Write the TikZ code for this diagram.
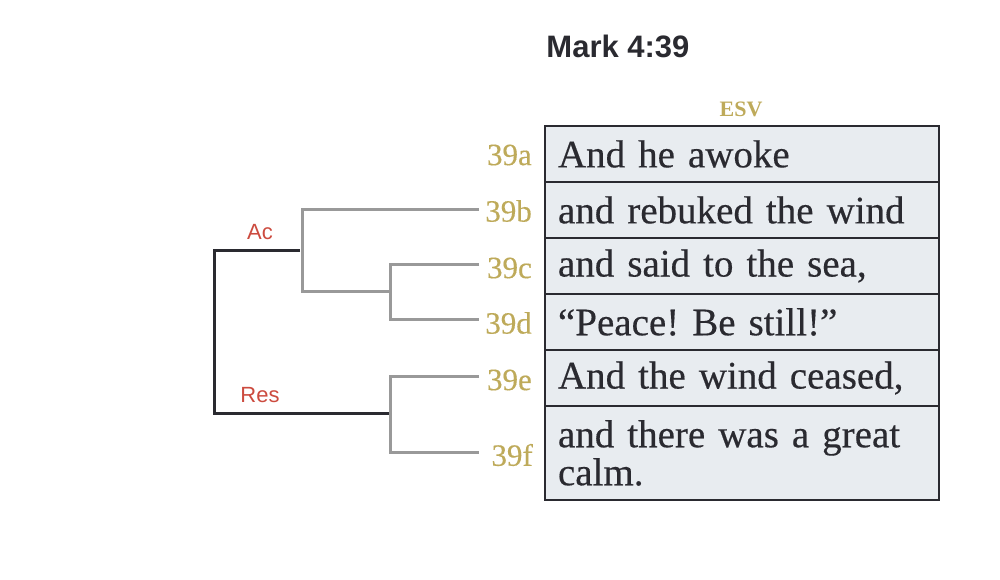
\documentclass[tikz,border=0pt]{standalone}
\usepackage{fontspec}
\setmainfont{Liberation Serif}
\setsansfont{Liberation Sans}
\newfontfamily\rowfont[FakeBold=0.35,Ligatures=TeX,WordSpace=0.8]{Liberation Serif}
\definecolor{gold}{RGB}{190,170,90}
\definecolor{redlab}{RGB}{204,75,63}
\definecolor{linegray}{RGB}{153,153,153}
\definecolor{ink}{RGB}{42,42,48}
\definecolor{rowfill}{RGB}{232,236,240}
\frenchspacing
\begin{document}
\begin{tikzpicture}[x=1pt,y=-1pt,
  rowbox/.style={draw=ink,line width=2pt,fill=rowfill,anchor=north west,
    minimum width=394pt,inner xsep=13pt,inner ysep=0pt,text width=368pt,align=left,
    text=ink,font=\rowfont\fontsize{39}{38}\selectfont},
  verse/.style={anchor=east,inner sep=0pt,text=gold,font=\rowfont\fontsize{31}{31}\selectfont},
  relab/.style={inner sep=0pt,text=redlab,font=\sffamily\fontsize{22}{22}\selectfont},
  gbranch/.style={draw=linegray,line width=3pt},
  kbranch/.style={draw=ink,line width=3pt}]
\useasboundingbox (0,0) rectangle (1000,580);
% title
\node[inner sep=0pt,text=ink,font=\sffamily\bfseries\fontsize{31}{31}\selectfont] (title) at (618,46) {Mark 4:39};
\node[inner sep=0pt,text=gold,font=\bfseries\fontsize{22}{22}\selectfont] (esv) at (741,109) {ESV};
% rows
\node[rowbox,minimum height=56pt] (r1) at (544,125) {And he awoke};
\node[rowbox,minimum height=56pt] (r2) at (544,181) {and rebuked the wind};
\node[rowbox,minimum height=56pt] (r3) at (544,237) {and said to the sea,};
\node[rowbox,minimum height=56pt] (r4) at (544,293) {“Peace! Be still!”};
\node[rowbox,minimum height=56pt] (r5) at (544,349) {And the wind ceased,};
\node[rowbox,minimum height=94pt] (r6) at (544,405) {and there was a great\\calm.};
% verse labels
\node[verse] (v39a) at (532,155) {39a};
\node[verse] (v39b) at (532,211) {39b};
\node[verse] (v39c) at (532,268) {39c};
\node[verse] (v39d) at (532,323) {39d};
\node[verse] (v39e) at (532,380) {39e};
\node[verse] (v39f) at (533,455) {39f};
% tree coordinates
\coordinate (root) at (214,331);
\coordinate (acj) at (302,250);
\coordinate (cdj) at (390,291);
\coordinate (resj) at (390,413);
\coordinate (e39b) at (479,209);
\coordinate (e39c) at (479,264);
\coordinate (e39d) at (479,319);
\coordinate (e39e) at (479,376);
\coordinate (e39f) at (479,452);
% gray branches
\draw[gbranch] (e39b) -| (acj) |- (cdj);
\draw[gbranch] (e39c) -| (cdj) |- (e39d);
\draw[gbranch] (e39e) -| (resj) |- (e39f);
% black root
\draw[kbranch] (300,250) -| (root) |- (388.5,413);
% relation labels
\node[relab] (ac) at (260,232) {Ac};
\node[relab] (res) at (260,395) {Res};
\end{tikzpicture}
\end{document}
